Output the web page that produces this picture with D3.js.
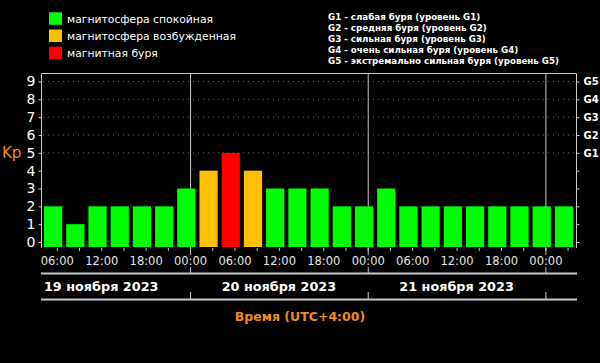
<!DOCTYPE html>
<html>
<head>
<meta charset="utf-8">
<script src="https://cdn.jsdelivr.net/npm/d3@7"></script>
<style>
	html, body { margin: 0; padding: 0; background: #000; }
	svg { display: block; }
	text { font-family: 'DejaVu Sans', Verdana, sans-serif; }
</style>
</head>
<body>
<svg id="chart-svg" width="600" height="363"></svg>
<script>
// Kp index, 3-hour intervals, local time UTC+4 (first interval starts 19 Nov 04:00)
const kpValues = [2, 1, 2, 2, 2, 2, 3, 4, 5, 4, 3, 3, 3, 2, 2, 3, 2, 2, 2, 2, 2, 2, 2, 2];
const dayLabels = ['19 ноября 2023', '20 ноября 2023', '21 ноября 2023'];
const gLabels = ['G1', 'G2', 'G3', 'G4', 'G5'];
const gLevels = [5, 6, 7, 8, 9];
const legendLabels = ['магнитосфера спокойная', 'магнитосфера возбужденная', 'магнитная буря'];
const legendColors = ['#00ff00', '#ffc000', '#ff0000'];
const stormLabels = [
	'G1 - слабая буря (уровень G1)',
	'G2 - средняя буря (уровень G2)',
	'G3 - сильная буря (уровень G3)',
	'G4 - очень сильная буря (уровень G4)',
	'G5 - экстремально сильная буря (уровень G5)'
];

const svg = d3.select('#chart-svg');
const start = new Date(2023, 10, 19, 4);
const end = new Date(2023, 10, 22, 4);
const frameColor = '#c8c8c8';

const x = d3.scaleTime().domain([start, end]).range([42, 575]);
const y = d3.scaleLinear().domain([0, 9]).range([242, 81.5]);
const plotTop = 73, plotBottom = 248, plotLeft = 41, plotRight = 576;

const kpColor = (v) => (v >= 5 ? legendColors[2] : v >= 4 ? legendColors[1] : legendColors[0]);
const bars = kpValues.map((v, i) => ({ t0: d3.timeHour.offset(start, i * 3), t1: d3.timeHour.offset(start, i * 3 + 3), v: v }));

// dotted grid at storm levels
svg.append('g')
	.selectAll('line')
	.data(gLevels)
	.enter()
	.append('line')
	.attr('x1', plotLeft + 2).attr('x2', plotRight - 2)
	.attr('y1', (d) => y(d)).attr('y2', (d) => y(d))
	.attr('stroke', '#666').attr('stroke-width', 1)
	.attr('stroke-dasharray', '1,4');

// day separators
const days = d3.timeDay.range(d3.timeDay.ceil(start), end);
svg.append('g')
	.selectAll('line')
	.data(days)
	.enter()
	.append('line')
	.attr('x1', (d) => x(d) + 0.5).attr('x2', (d) => x(d) + 0.5)
	.attr('y1', plotTop).attr('y2', 255)
	.attr('stroke', frameColor);

// bars
svg.append('g')
	.selectAll('rect')
	.data(bars)
	.enter()
	.append('rect')
	.attr('x', (d) => x(d.t0) + 2)
	.attr('width', (d) => x(d.t1) - x(d.t0) - 4)
	.attr('y', (d) => y(d.v))
	.attr('height', (d) => plotBottom - 1 - y(d.v))
	.attr('fill', (d) => kpColor(d.v));

// frame
svg.append('path')
	.attr('d', `M${plotLeft + 0.5},${plotBottom}V${plotTop + 0.5}H${plotRight + 0.5}V${plotBottom}`)
	.attr('fill', 'none')
	.attr('stroke', frameColor);

// left axis
const yLeft = d3.axisLeft(y).ticks(9).tickSize(3).tickPadding(3).tickFormat(d3.format('d'));
const gLeft = svg.append('g').attr('transform', `translate(${plotLeft + 0.5},0)`).call(yLeft);
gLeft.select('.domain').remove();
gLeft.selectAll('line').attr('stroke', frameColor);
gLeft.selectAll('text').attr('fill', '#fff').attr('font-size', 14).attr('font-family', 'DejaVu Sans');

// right axis with storm levels
const yRight = d3.axisRight(y).ticks(9).tickSize(3).tickPadding(4)
	.tickFormat((d) => (gLevels.indexOf(d) >= 0 ? gLabels[gLevels.indexOf(d)] : ''));
const gRight = svg.append('g').attr('transform', `translate(${plotRight + 0.5},0)`).call(yRight);
gRight.select('.domain').remove();
gRight.selectAll('line').attr('stroke', frameColor);
gRight.selectAll('text').attr('fill', '#fff').attr('font-size', 10).attr('font-weight', 'bold')
	.attr('font-family', 'DejaVu Sans Condensed');

// Kp label
svg.append('text').attr('x', 2).attr('y', y(5) + 5).attr('fill', '#f08c1c').attr('font-size', 15).text('Kp');

// time axis
const xAxis = d3.axisBottom(x)
	.ticks(d3.timeHour.every(3))
	.tickSize(3)
	.tickPadding(6)
	.tickFormat((d) => (d.getHours() % 6 === 0 ? d3.timeFormat('%H:%M')(d) : ''));
const gX = svg.append('g').attr('transform', `translate(0,${plotBottom})`).call(xAxis);
gX.select('.domain').remove();
gX.selectAll('line').attr('stroke', frameColor);
gX.selectAll('text').attr('fill', '#e6e6e6').attr('font-size', 11.5).attr('font-family', 'DejaVu Sans');

// date axis lines
const rule1 = 273.5, rule2 = 299.5;
[rule1, rule2].forEach((yy) => {
	svg.append('line').attr('x1', plotLeft).attr('x2', plotRight + 1).attr('y1', yy).attr('y2', yy)
		.attr('stroke', frameColor).attr('stroke-width', 2);
});
const dayTicks = svg.append('g').selectAll('g').data(days).enter().append('g');
dayTicks.append('line')
	.attr('x1', (d) => x(d) + 0.5).attr('x2', (d) => x(d) + 0.5)
	.attr('y1', 267).attr('y2', rule1).attr('stroke', frameColor);
dayTicks.append('line')
	.attr('x1', (d) => x(d) + 0.5).attr('x2', (d) => x(d) + 0.5)
	.attr('y1', 292).attr('y2', rule2).attr('stroke', frameColor);

// date labels centred on each full day
const dayStarts = dayLabels.map((d, i) => new Date(2023, 10, 19 + i));
svg.append('g')
	.selectAll('text')
	.data(dayLabels)
	.enter()
	.append('text')
	.attr('x', (d, i) => (x(dayStarts[i]) + x(d3.timeDay.offset(dayStarts[i], 1))) / 2)
	.attr('y', 291)
	.attr('text-anchor', 'middle')
	.attr('fill', '#fff')
	.attr('font-size', 12.8)
	.attr('font-weight', 'bold')
	.text((d) => d);

// axis title
svg.append('text')
	.attr('x', 300).attr('y', 321)
	.attr('text-anchor', 'middle')
	.attr('fill', '#f08c1c')
	.attr('font-size', 12.5)
	.attr('font-weight', 'bold')
	.text('Время (UTC+4:00)');

// colour legend
const legendG = svg.append('g')
	.selectAll('g')
	.data(legendLabels)
	.enter()
	.append('g')
	.attr('transform', (d, i) => 'translate(49,' + (12.3 + i * 17.2) + ')');
legendG.append('rect').attr('width', 13).attr('height', 12.5).attr('fill', (d, i) => legendColors[i]);
legendG.append('text').attr('x', 18).attr('y', 10.5).attr('fill', '#fff').attr('font-size', 10.8)
	.text((d) => d);

// storm level legend
svg.append('g')
	.selectAll('text')
	.data(stormLabels)
	.enter()
	.append('text')
	.attr('x', 328)
	.attr('y', (d, i) => 19.5 + i * 11.1)
	.attr('fill', '#fff')
	.attr('font-size', 8.7)
	.attr('font-weight', 'bold')
	.attr('font-family', 'DejaVu Sans Condensed')
	.text((d) => d);
</script>
</body>
</html>
